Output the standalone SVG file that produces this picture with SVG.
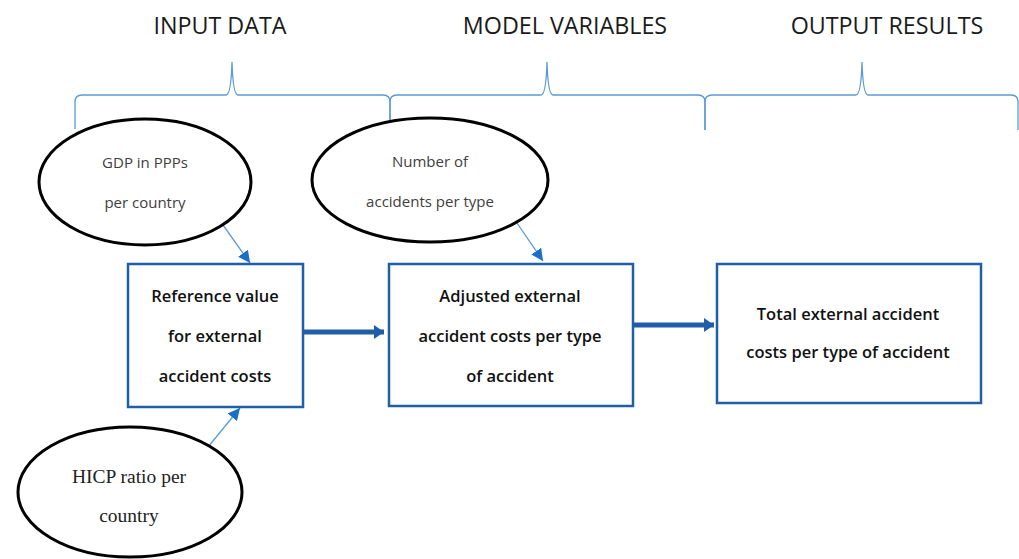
<svg xmlns="http://www.w3.org/2000/svg" width="1019" height="559" viewBox="0 0 1019 559">
<defs>
<style>
.hdr{font-family:"Open Sans","Liberation Sans",sans-serif;font-size:23.3px;fill:#1a1a1a;text-anchor:middle}
.brace{fill:none;stroke:#5b9bd5;stroke-width:1.3}
.ell{fill:#fff;stroke:#000;stroke-width:3}
.etxt{font-family:"Open Sans","Liberation Sans",sans-serif;font-size:15px;fill:#404040;text-anchor:middle}
.stxt{font-family:"Liberation Serif",serif;font-size:19.5px;fill:#222;text-anchor:middle}
.box{fill:#fff;stroke:#1f5ea8;stroke-width:2.5}
.btxt{font-family:"Open Sans","Liberation Sans",sans-serif;font-size:16.5px;font-weight:600;fill:#111;text-anchor:middle}
.thin{stroke:#5b9bd5;stroke-width:1.3;fill:none}
.thick{stroke:#1f5ea8;stroke-width:5;fill:none}
</style>
<marker id="ah" viewBox="0 0 12 12" refX="12" refY="6" markerWidth="12" markerHeight="12" markerUnits="userSpaceOnUse" orient="auto">
<path d="M0,0 L12,6 L0,12 Z" fill="#1a6fc9"/>
</marker>
<marker id="ahT" viewBox="0 0 10 14" refX="10" refY="7" markerWidth="10" markerHeight="14" markerUnits="userSpaceOnUse" orient="auto">
<path d="M0,0 L10,7 L0,14 Z" fill="#1f5ea8"/>
</marker>
</defs>
<rect width="1019" height="559" fill="#fff"/>
<g id="headers">
<text class="hdr" x="220" y="34">INPUT DATA</text>
<text class="hdr" x="565" y="34">MODEL VARIABLES</text>
<text class="hdr" x="887" y="34">OUTPUT RESULTS</text>
</g>
<g id="braces">
<path class="brace" d="M75,129 L75,102 Q75,95 82,95 L226,95 Q231,95 232,62 Q233,95 238,95 L383,95 Q390,95 390,102 L390,130"/>
<path class="brace" d="M390,130 L390,102 Q390,95 397,95 L541,95 Q546,95 547,62 Q548,95 553,95 L698,95 Q705,95 705,102 L705,130"/>
<path class="brace" d="M705,130 L705,102 Q705,95 712,95 L856,95 Q861,95 862,62 Q863,95 868,95 L1011,95 Q1018,95 1018,102 L1018,130"/>
</g>
<g id="connectors">
<line class="thin" x1="223" y1="225" x2="250" y2="263" marker-end="url(#ah)"/>
<line class="thin" x1="517" y1="223" x2="543" y2="261" marker-end="url(#ah)"/>
<line class="thin" x1="208" y1="447" x2="240" y2="408" marker-end="url(#ah)"/>
<line class="thick" x1="304" y1="332" x2="384" y2="332" marker-end="url(#ahT)"/>
<line class="thick" x1="634" y1="325" x2="714" y2="325" marker-end="url(#ahT)"/>
</g>
<g id="gdp">
<ellipse class="ell" cx="145" cy="182" rx="106" ry="63"/>
<text class="etxt" x="145" y="168">GDP in PPPs</text>
<text class="etxt" x="145" y="208">per country</text>
</g>
<g id="accidents">
<ellipse class="ell" cx="430" cy="180" rx="118" ry="62"/>
<text class="etxt" x="430" y="167">Number of</text>
<text class="etxt" x="430" y="207">accidents per type</text>
</g>
<g id="hicp">
<ellipse class="ell" cx="130" cy="492" rx="112" ry="65"/>
<text class="stxt" x="129" y="483">HICP ratio per</text>
<text class="stxt" x="129" y="522">country</text>
</g>
<g id="reference">
<rect class="box" x="128" y="264" width="175" height="143"/>
<text class="btxt" x="215" y="302">Reference value</text>
<text class="btxt" x="215" y="342">for external</text>
<text class="btxt" x="215" y="382">accident costs</text>
</g>
<g id="adjusted">
<rect class="box" x="389" y="264" width="244" height="142"/>
<text class="btxt" x="510" y="302">Adjusted external</text>
<text class="btxt" x="510" y="342">accident costs per type</text>
<text class="btxt" x="510" y="382">of accident</text>
</g>
<g id="total">
<rect class="box" x="717" y="264" width="264" height="139"/>
<text class="btxt" x="848" y="320">Total external accident</text>
<text class="btxt" x="848" y="358">costs per type of accident</text>
</g>
</svg>
